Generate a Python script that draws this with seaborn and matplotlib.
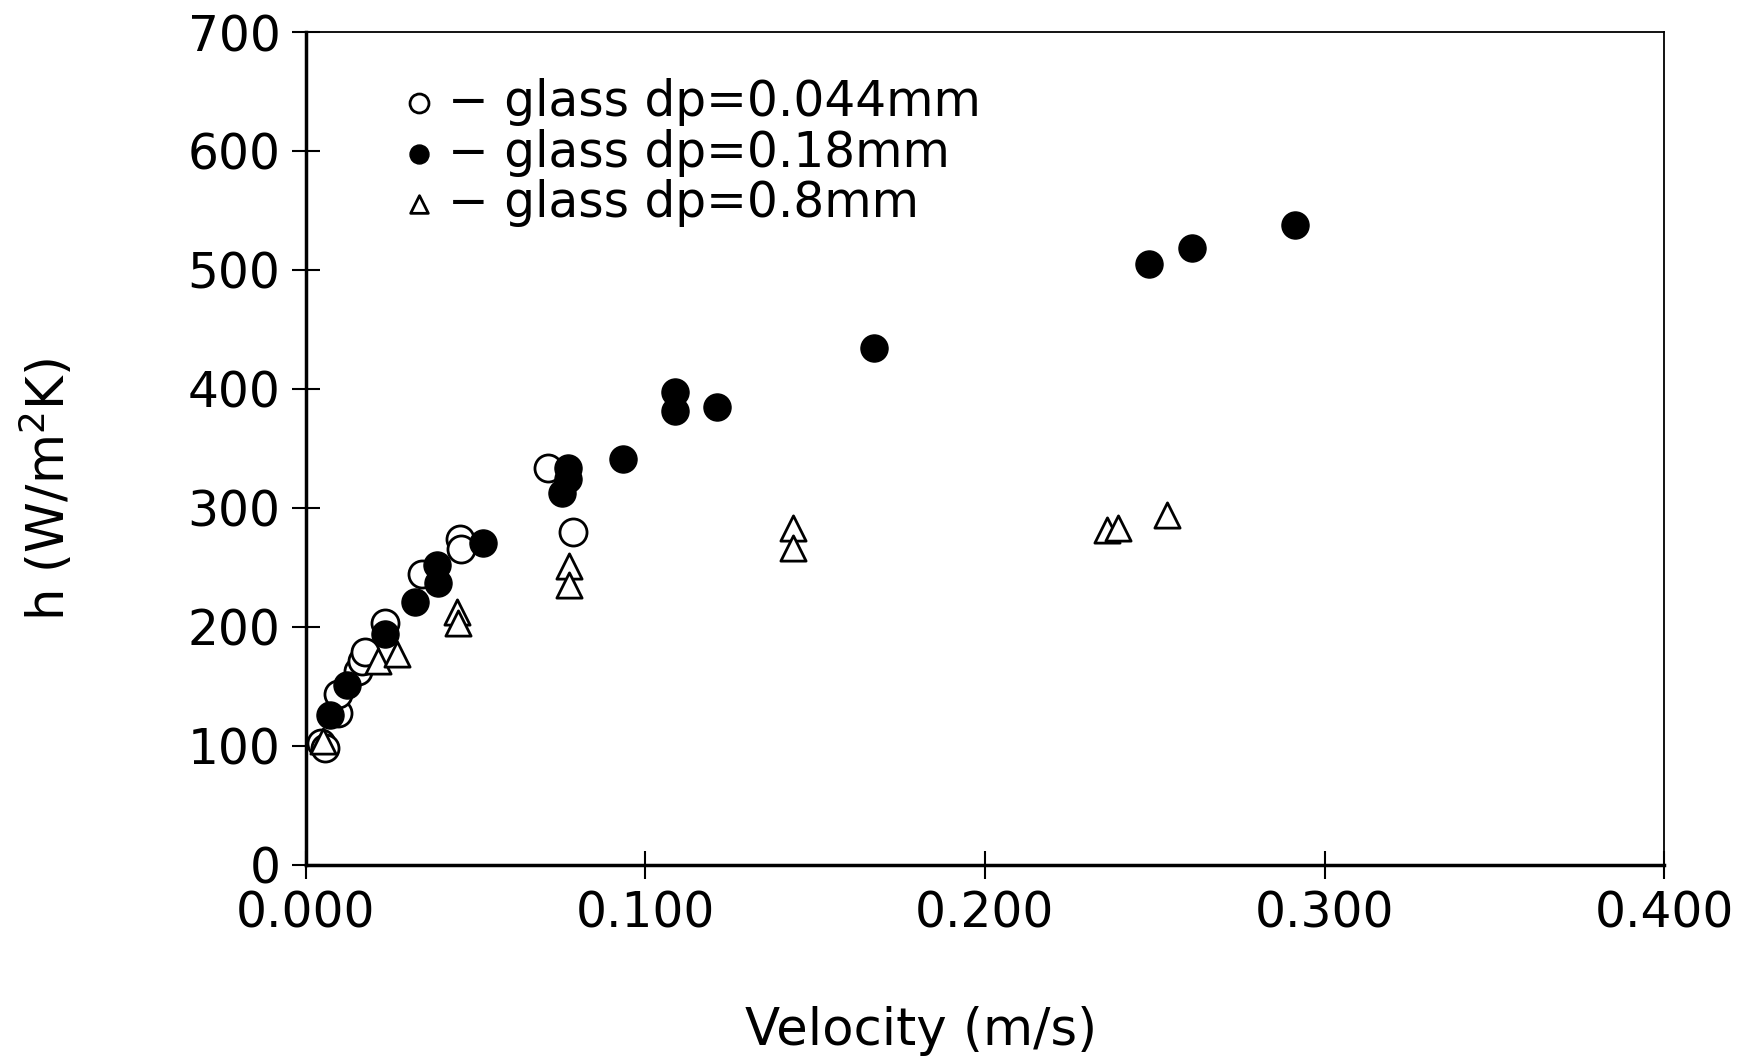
import matplotlib
matplotlib.use("Agg")
import matplotlib.pyplot as plt
import seaborn as sns
import numpy as np

# glass dp = 0.044 mm (open circles)
v_044 = [0.0045, 0.0057, 0.0097, 0.0097, 0.0155, 0.0165, 0.0175, 0.0234, 0.0342, 0.0455, 0.0458, 0.0715, 0.0787]
h_044 = [102, 98, 127, 143, 163, 171, 179, 203, 244, 274, 265, 333, 280]

# glass dp = 0.18 mm (filled circles)
v_018 = [0.0072, 0.0121, 0.0234, 0.0322, 0.0386, 0.0391, 0.0523, 0.0754, 0.0774, 0.0774,
         0.0936, 0.1088, 0.1088, 0.1210, 0.1674, 0.2483, 0.2609, 0.2913]
h_018 = [126, 151, 194, 221, 252, 237, 270, 312, 333, 324,
         341, 397, 381, 385, 434, 505, 518, 538]

# glass dp = 0.8 mm (open triangles)
v_08 = [0.0052, 0.0214, 0.0268, 0.0445, 0.0450, 0.0777, 0.0777, 0.1435, 0.1435, 0.2359, 0.2393, 0.2537]
h_08 = [104, 171, 177, 212, 203, 251, 235, 283, 266, 281, 283, 294]

labels = ["\u2212 glass dp=0.044mm", "\u2212 glass dp=0.18mm", "\u2212 glass dp=0.8mm"]
x_ticks = [0.0, 0.1, 0.2, 0.3, 0.4]
x_ticklabels = ["0.000", "0.100", "0.200", "0.300", "0.400"]
y_ticks = [0, 100, 200, 300, 400, 500, 600, 700]

sns.set_theme(style="white")
plt.rcParams['font.family'] = ['DejaVu Sans']
plt.rcParams['text.color'] = 'black'

fig = plt.figure(figsize=(17.55, 10.6), dpi=100)
ax = fig.add_axes([305.5 / 1755, (1060 - 864.5) / 1060, 1358.8 / 1755, 832.5 / 1060])

FS = 35
LFS = 37

sns.scatterplot(x=v_044, y=h_044, marker='o', s=380, facecolor='white', edgecolor='black',
                linewidth=2.0, ax=ax, label=labels[0], zorder=3)
sns.scatterplot(x=v_018, y=h_018, marker='o', s=380, color='black', edgecolor='black',
                linewidth=1.0, ax=ax, label=labels[1], zorder=4)
sns.scatterplot(x=v_08, y=h_08, marker='^', s=330, facecolor='white', edgecolor='black',
                linewidth=2.0, ax=ax, label=labels[2], zorder=5)

ax.set_xlim(0, 0.4)
ax.set_ylim(0, 700)
ax.set_xticks(x_ticks)
ax.set_xticklabels(x_ticklabels)
ax.set_yticks(y_ticks)
ax.tick_params(axis='both', which='major', direction='inout', length=20, width=1.5,
               color='black', labelsize=FS, labelcolor='black', pad=8,
               bottom=True, left=True, top=False, right=False)

for side in ['left', 'bottom']:
    ax.spines[side].set_linewidth(2.5)
    ax.spines[side].set_color('black')
for side in ['top', 'right']:
    ax.spines[side].set_linewidth(1.3)
    ax.spines[side].set_color('black')
    ax.spines[side].set_visible(True)

ax.set_xlabel("Velocity (m/s)", fontsize=LFS, color='black')
ax.set_ylabel("h (W/m$^2$K)", fontsize=LFS, color='black')
ax.xaxis.set_label_coords(0.453, -0.17)
ax.yaxis.set_label_coords(-0.169, 0.451)

leg = ax.legend(loc='upper left', bbox_to_anchor=(0.051, 0.968), frameon=False, fontsize=FS,
                markerscale=0.7, handletextpad=0.1, labelspacing=0.05, borderaxespad=0,
                handlelength=1.0)
for t in leg.get_texts():
    t.set_color('black')

fig.savefig("out.png", dpi=100, facecolor='white')
